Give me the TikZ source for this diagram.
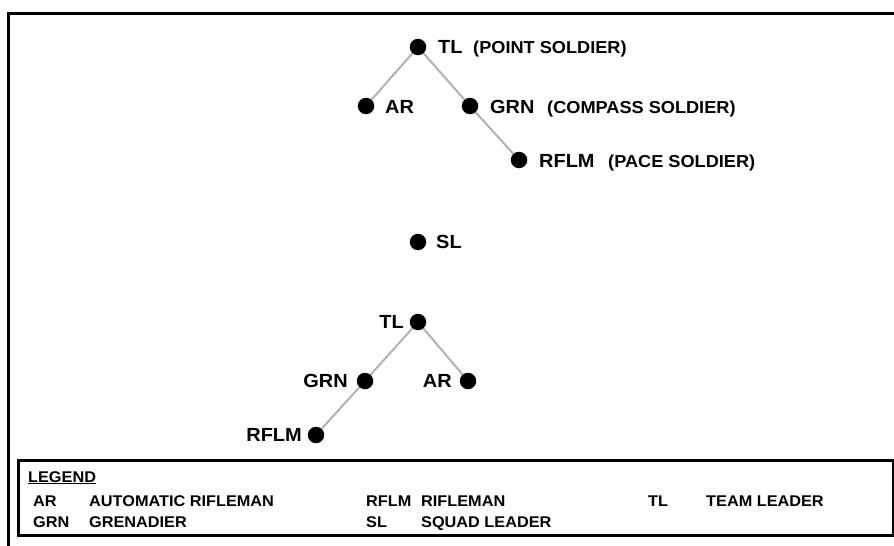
\documentclass[tikz,border=0pt]{standalone}
\usepackage{fontspec}
\usetikzlibrary{backgrounds}
\newfontfamily\wfont[FakeStretch=1.05]{Liberation Sans}
\newcommand\lblfont{\wfont\bfseries\fontsize{19}{21}\selectfont}
\newcommand\parfont{\wfont\bfseries\fontsize{17.3}{19}\selectfont}
\newcommand\legfont{\wfont\bfseries\fontsize{15.5}{17}\selectfont}
\tikzset{
  dot/.style={circle,fill=black,inner sep=0pt,minimum size=16.5pt},
  lbl/.style={font=\lblfont,inner sep=0pt},
  par/.style={font=\parfont,inner sep=0pt},
  leg/.style={font=\legfont,inner sep=0pt,anchor=base west},
  link/.style={draw=black!30,line width=2pt},
  frame/.style={draw=black,line width=3pt}
}
\begin{document}
\begin{tikzpicture}[x=1pt,y=-1pt]
\useasboundingbox (0,0) rectangle (894,546);
% outer frame (partially visible)
\coordinate (fa) at (8,546);
\coordinate (fb) at (8,13);
\coordinate (fc) at (894,13);
\draw[frame,line cap=rect] (fa) -- (fb) -- (fc);

% top formation
\node[dot] (tl1) at (418,47) {};
\node[dot] (ar1) at (366,106) {};
\node[dot] (grn1) at (470,106) {};
\node[dot] (rflm1) at (519,160) {};
\node[lbl,anchor=base west] (ttl1) at (438,53.5) {TL};
\node[par,anchor=base west] (ptl1) at (473,53.5) {(POINT SOLDIER)};
\node[lbl,anchor=base west] (tar1) at (385,113) {AR};
\node[lbl,anchor=base west] (tgrn1) at (490,113) {GRN};
\node[par,anchor=base west] (pgrn1) at (547,113) {(COMPASS SOLDIER)};
\node[lbl,anchor=base west] (trflm1) at (539,167) {RFLM};
\node[par,anchor=base west] (prflm1) at (608,167) {(PACE SOLDIER)};

% squad leader
\node[dot] (sl) at (418,242) {};
\node[lbl,anchor=base west] (tsl) at (436,248.5) {SL};

% bottom formation
\node[dot] (tl2) at (418,322) {};
\node[dot] (grn2) at (365,381) {};
\node[dot] (ar2) at (468,381) {};
\node[dot] (rflm2) at (316,435) {};
\node[lbl,anchor=base east] (ttl2) at (404,328.5) {TL};
\node[lbl,anchor=base east] (tgrn2) at (348,387.5) {GRN};
\node[lbl,anchor=base east] (tar2) at (452,387.5) {AR};
\node[lbl,anchor=base east] (trflm2) at (302,441.5) {RFLM};

\begin{pgfonlayer}{background}
\draw[link] (tl1.center) -- (ar1.center);
\draw[link] (tl1.center) -- (grn1.center);
\draw[link] (grn1.center) -- (rflm1.center);
\draw[link] (tl2.center) -- (grn2.center);
\draw[link] (tl2.center) -- (ar2.center);
\draw[link] (grn2.center) -- (rflm2.center);
\end{pgfonlayer}

% legend
\node[frame,fill=white,minimum width=875pt,minimum height=75pt,anchor=north west,inner sep=0pt] (legbox) at (17,459) {};
\node[leg] (leghead) at (28,482) {\underline{LEGEND}};
\node[leg] (k1) at (33,506) {AR};
\node[leg] (v1) at (89,506) {AUTOMATIC RIFLEMAN};
\node[leg] (k2) at (33,527) {GRN};
\node[leg] (v2) at (89,527) {GRENADIER};
\node[leg] (k3) at (366,506) {RFLM};
\node[leg] (v3) at (421,506) {RIFLEMAN};
\node[leg] (k4) at (366,527) {SL};
\node[leg] (v4) at (421,527) {SQUAD LEADER};
\node[leg] (k5) at (648,506) {TL};
\node[leg] (v5) at (706,506) {TEAM LEADER};
\end{tikzpicture}
\end{document}
